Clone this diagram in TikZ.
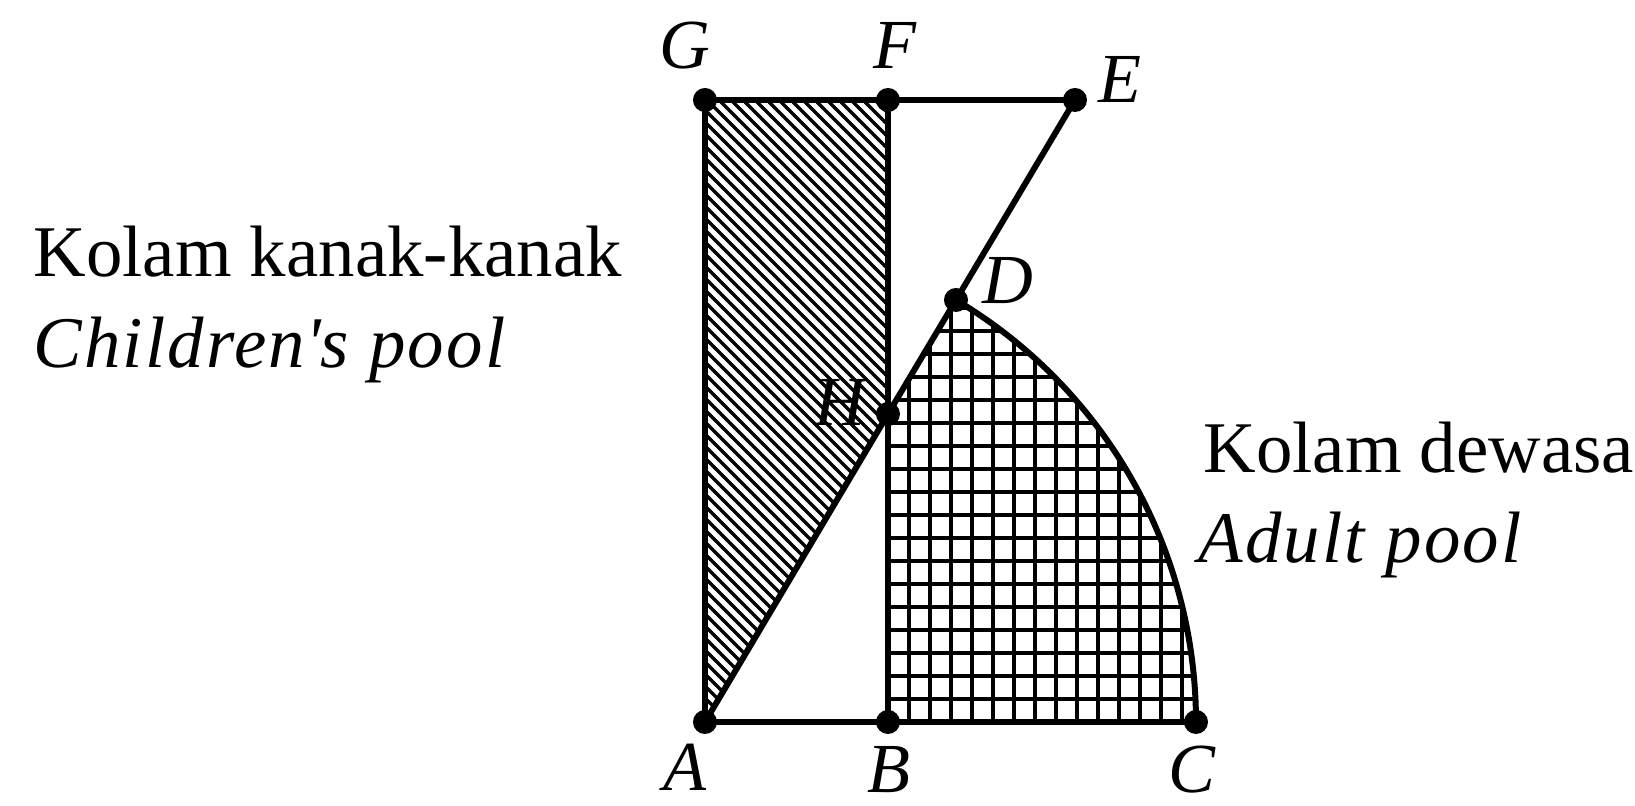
\documentclass[tikz,border=0pt]{standalone}
\usepackage{fontspec}
\setmainfont{Liberation Serif}
\usetikzlibrary{positioning}
\tikzset{
  edge/.style={line width=1.7pt},
  dot/.style={circle,fill=black,inner sep=0pt,minimum size=0.24cm},
  ptlabel/.style={font=\fontsize{20}{24}\selectfont\itshape,inner sep=0pt},
  poolname/.style={font=\fontsize{20.7}{24}\selectfont,anchor=base west,inner sep=0pt},
  poolname en/.style={poolname,font=\fontsize{20.7}{24}\selectfont\itshape\addfontfeature{LetterSpace=3}},
  hatchline/.style={line width=1pt},
  gridline/.style={line width=0.9pt},
}
\begin{document}
\begin{tikzpicture}[x=0.01cm,y=0.01cm]
  \useasboundingbox (-705,-84) rectangle (930,722);
  % points of the plan
  \coordinate (A) at (0,0);
  \coordinate (B) at (183,0);
  \coordinate (C) at (491,0);
  \coordinate (D) at (251,422);
  \coordinate (E) at (370,622);
  \coordinate (F) at (183,622);
  \coordinate (G) at (0,622);
  \coordinate (H) at (183,308);

  % children's pool
  \begin{scope}
    \clip (A) -- (G) -- (F) -- (H) -- cycle;
    \foreach \c in {0,12,...,816}
      \draw[hatchline] (\c,0) -- ++(-700,700);
  \end{scope}

  % adult pool
  \begin{scope}
    \clip (B) -- (C) arc[start angle=0,end angle=59.26,radius=491] -- (H) -- cycle;
    \foreach \i in {0,...,15}
      \draw[gridline] ({183+21*\i},0) -- ++(0,450);
    \foreach \j in {0,...,19}
      \draw[gridline] (183,{23*\j}) -- ++(320,0);
  \end{scope}

  % outline
  \draw[edge] (A) -- (B) -- (C);
  \draw[edge] (A) -- (G) -- (F) -- (E);
  \draw[edge] (B) -- (F);
  \draw[edge] (A) -- (H) -- (D) -- (E);
  \draw[edge] (C) arc[start angle=0,end angle=59.26,radius=491];

  \foreach \p in {A,B,C,D,E,F,G,H}
    \node[dot] (dot\p) at (\p) {};

  % labels
  \node[ptlabel] (lA) at (-20,-45) {A};
  \node[ptlabel] (lB) at (184,-48) {B};
  \node[ptlabel] (lC) at (487,-48) {C};
  \node[ptlabel] (lD) at (303,441) {D};
  \node[ptlabel] (lE) at (415,643) {E};
  \node[ptlabel] (lF) at (190,677) {F};
  \node[ptlabel] (lG) at (-20,676) {G};
  \node[ptlabel] (lH) at (135,320) {H};

  \node[poolname] (kanak) at (-672,445) {Kolam kanak-kanak};
  \node[poolname en] (children) at (-672,354) {Children\textquotesingle s pool};
  \node[poolname] (dewasa) at (498,249) {Kolam dewasa};
  \node[poolname en] (adult) at (493,159) {Adult pool};
\end{tikzpicture}
\end{document}
